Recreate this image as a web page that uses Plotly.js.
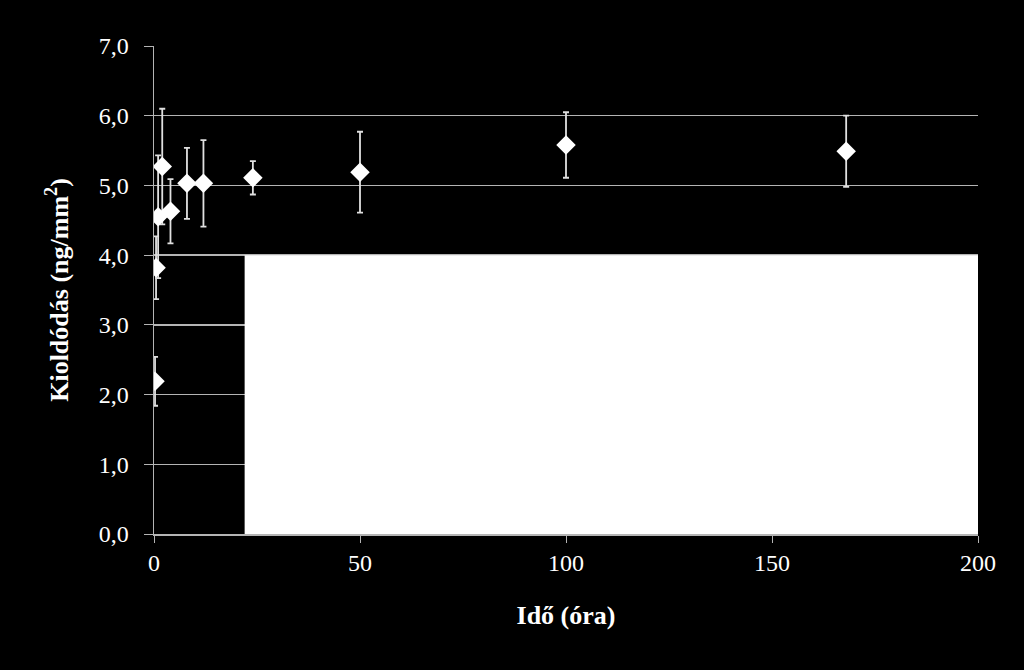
<!DOCTYPE html>
<html>
<head>
<meta charset="utf-8">
<script src="https://cdn.plot.ly/plotly-3.0.1.min.js"></script>
<style>
  html, body { margin: 0; padding: 0; background: #000; }
  #chart { width: 1024px; height: 670px; }
</style>
</head>
<body>
<div id="chart"></div>
<script>
// time (hours) and release values
const hours = [0.25, 0.5, 1, 2, 4, 8, 12, 24, 50, 100, 168];
const release = [2.19, 3.82, 4.55, 5.27, 4.63, 5.03, 5.03, 5.11, 5.19, 5.58, 5.49];
const releaseErr = [0.35, 0.45, 0.88, 0.83, 0.46, 0.51, 0.62, 0.24, 0.58, 0.47, 0.51];

const yTicks = [0, 1, 2, 3, 4, 5, 6, 7];
const xTicks = [0, 50, 100, 150, 200];

// white box covering the lower right of the plot
const boxX = [22, 200];
const boxY = [0, 4];

const font = "Liberation Serif, Times New Roman, serif";
const gridColor = "#b4b4b4";

const traces = [{
    x: hours,
    y: release,
    type: "scatter",
    mode: "markers",
    marker: { symbol: "diamond", size: 15, color: "#ffffff" },
    error_y: {
        type: "data",
        array: releaseErr,
        visible: true,
        color: "#e0e0e0",
        thickness: 1.8,
        width: 3
    },
    showlegend: false,
    hoverinfo: "skip"
}];

const layout = {
    width: 1024,
    height: 670,
    paper_bgcolor: "#000000",
    plot_bgcolor: "#000000",
    separators: ", ",
    margin: { l: 154, r: 46, t: 46, b: 136 },
    font: { family: font, color: "#ffffff", size: 24 },
    xaxis: {
        range: [0, 200],
        tickvals: xTicks,
        ticks: "outside",
        ticklen: 7,
        tickcolor: gridColor,
        showgrid: false,
        zeroline: false,
        showline: true,
        linecolor: gridColor,
        linewidth: 1.5,
        tickfont: { family: font, size: 24, color: "#ffffff" },
        title: { text: "<b>Idő (óra)</b>", font: { family: font, size: 26, color: "#ffffff" }, standoff: 30 }
    },
    yaxis: {
        range: [0, 7],
        tickvals: yTicks,
        tickformat: ".1f",
        ticks: "outside",
        ticklen: 9,
        ticklabelstandoff: 10,
        tickcolor: gridColor,
        showgrid: true,
        gridcolor: gridColor,
        gridwidth: 1.4,
        zeroline: false,
        showline: true,
        linecolor: gridColor,
        linewidth: 1.5,
        tickfont: { family: font, size: 24, color: "#ffffff" },
        title: { text: "<b>Kioldódás (ng/mm<sup>2</sup>)</b>", font: { family: font, size: 26, color: "#ffffff" }, standoff: 22 }
    },
    shapes: [{
        type: "rect",
        xref: "x", yref: "y",
        x0: boxX[0], x1: boxX[1],
        y0: boxY[0], y1: boxY[1],
        fillcolor: "#ffffff",
        line: { width: 0 },
        layer: "above"
    }]
};

Plotly.newPlot("chart", traces, layout, { staticPlot: true });
</script>
</body>
</html>
